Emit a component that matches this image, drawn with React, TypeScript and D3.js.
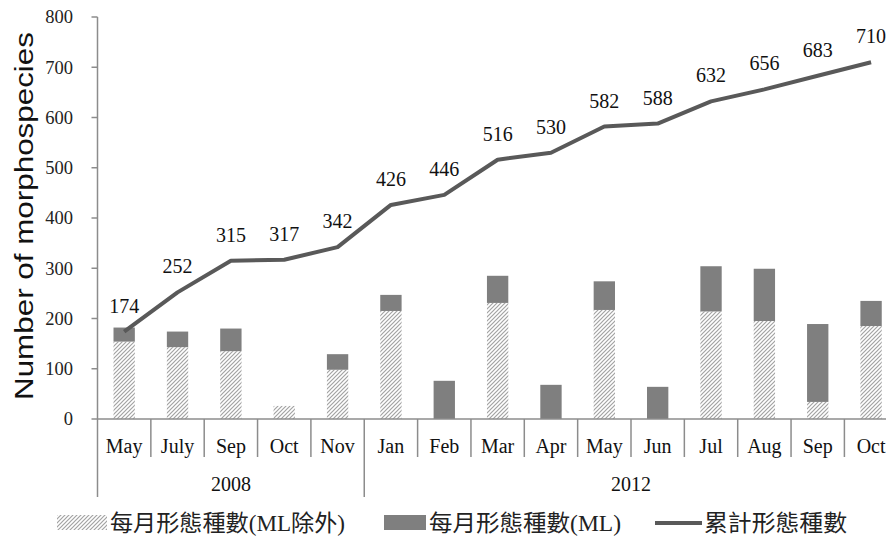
import React from "react";
import * as d3 from "d3";

const months = ["May", "July", "Sep", "Oct", "Nov", "Jan", "Feb", "Mar", "Apr", "May", "Jun", "Jul", "Aug", "Sep", "Oct"];
const years = [
  { label: "2008", start: 0, end: 5 },
  { label: "2012", start: 5, end: 15 },
];
const nonML = [154, 143, 135, 26, 98, 215, 0, 231, 0, 217, 0, 214, 195, 34, 185];
const mlOnly = [28, 31, 45, 0, 31, 32, 76, 54, 68, 57, 64, 90, 104, 155, 50];
const cumulative = [174, 252, 315, 317, 342, 426, 446, 516, 530, 582, 588, 632, 656, 683, 710];
const yTicks = [0, 100, 200, 300, 400, 500, 600, 700, 800];
const legendLabels = ["每月形態種數(ML除外)", "每月形態種數(ML)", "累計形態種數"];

export default function App() {
  const W = 886, H = 539;
  const x0 = 97.5;
  const step = 53.35;
  const x = d3.scaleBand<number>().domain(d3.range(months.length)).range([x0, x0 + step * months.length]).paddingInner(0.6).paddingOuter(0.3);
  const xEdge = (i: number) => x0 + step * i;
  const y = d3.scaleLinear().domain([0, 800]).range([419, 17]);
  const axisColor = "#8c8c8c";
  const serif = "'Liberation Serif', 'Times New Roman', serif";
  const legendFont = "'Liberation Serif', 'Noto Sans CJK TC', serif";
  const line = d3.line<number>().x((_, i) => (x(i) as number) + x.bandwidth() / 2).y((d) => y(d));

  return (
    <svg width={W} height={H} style={{ position: "absolute", left: 0, top: 0, background: "#fff" }}>
      <defs>
        <pattern id="hatch" width="4" height="4" patternUnits="userSpaceOnUse">
          <rect width="4" height="4" fill="#ffffff" />
          <path d="M-1,1 l2,-2 M0,4 l4,-4 M3,5 l2,-2" stroke="#a3a3a3" strokeWidth="1.2" />
        </pattern>
      </defs>
      <rect width={W} height={H} fill="#fff" />
      {/* y axis */}
      <line x1={x0} x2={x0} y1={y(800)} y2={y(0)} stroke={axisColor} strokeWidth={1.5} />
      {yTicks.map((t) => (
        <g key={t}>
          <line x1={x0 - 6} x2={x0} y1={y(t)} y2={y(t)} stroke={axisColor} strokeWidth={1.5} />
          <text x={73} y={y(t)} dy="0.35em" textAnchor="end" fontFamily={serif} fontSize={18.5} fill="#222">{t}</text>
        </g>
      ))}
      <text transform={`translate(33,${(32 + 400) / 2}) rotate(-90)`} textAnchor="middle" fontFamily="'Liberation Sans', Arial, sans-serif" fontSize={25} textLength={368} lengthAdjust="spacingAndGlyphs" fill="#111">Number of morphospecies</text>
      {/* bars */}
      {months.map((m, i) => {
        const bx = x(i) as number;
        const bw = x.bandwidth();
        return (
          <g key={i}>
            {nonML[i] > 0 && <rect x={bx} width={bw} y={y(nonML[i])} height={y(0) - y(nonML[i])} fill="url(#hatch)" />}
            {mlOnly[i] > 0 && <rect x={bx} width={bw} y={y(nonML[i] + mlOnly[i])} height={y(nonML[i]) - y(nonML[i] + mlOnly[i])} fill="#7f7f7f" />}
          </g>
        );
      })}
      {/* x axis */}
      <line x1={x0} x2={W} y1={y(0)} y2={y(0)} stroke={axisColor} strokeWidth={1.5} />
      {months.map((m, i) => (
        <g key={"t" + i}>
          {i > 0 && !years.some((yy) => yy.start === i) && <line x1={xEdge(i)} x2={xEdge(i)} y1={y(0)} y2={457} stroke={axisColor} strokeWidth={1.5} />}
          <text x={(x(i) as number) + x.bandwidth() / 2} y={453} textAnchor="middle" fontFamily={serif} fontSize={20} fill="#111">{m}</text>
        </g>
      ))}
      {years.map((yy) => (
        <g key={yy.label}>
          <line x1={xEdge(yy.start)} x2={xEdge(yy.start)} y1={y(0)} y2={497} stroke={axisColor} strokeWidth={1.5} />
          <text x={(xEdge(yy.start) + xEdge(yy.end)) / 2} y={491} textAnchor="middle" fontFamily={serif} fontSize={20} fill="#111">{yy.label}</text>
        </g>
      ))}
      {/* cumulative line */}
      <path d={line(cumulative) || ""} fill="none" stroke="#595959" strokeWidth={4} strokeLinejoin="round" />
      {cumulative.map((v, i) => (
        <text key={"l" + i} x={(x(i) as number) + x.bandwidth() / 2} y={y(v) - 19} textAnchor="middle" fontFamily={serif} fontSize={20} fill="#111">{v}</text>
      ))}
      {/* legend */}
      <rect x={57} y={515} width={50} height={15} fill="url(#hatch)" />
      <text x={110} y={531} fontFamily={legendFont} fontSize={23} textLength={235} lengthAdjust="spacingAndGlyphs" fill="#222">{legendLabels[0]}</text>
      <rect x={384} y={515} width={42} height={15} fill="#7f7f7f" />
      <text x={429} y={531} fontFamily={legendFont} fontSize={23} textLength={192} lengthAdjust="spacingAndGlyphs" fill="#222">{legendLabels[1]}</text>
      <line x1={655} x2={702} y1={523} y2={523} stroke="#595959" strokeWidth={4} />
      <text x={704} y={531} fontFamily={legendFont} fontSize={23} textLength={143} lengthAdjust="spacingAndGlyphs" fill="#222">{legendLabels[2]}</text>
    </svg>
  );
}
